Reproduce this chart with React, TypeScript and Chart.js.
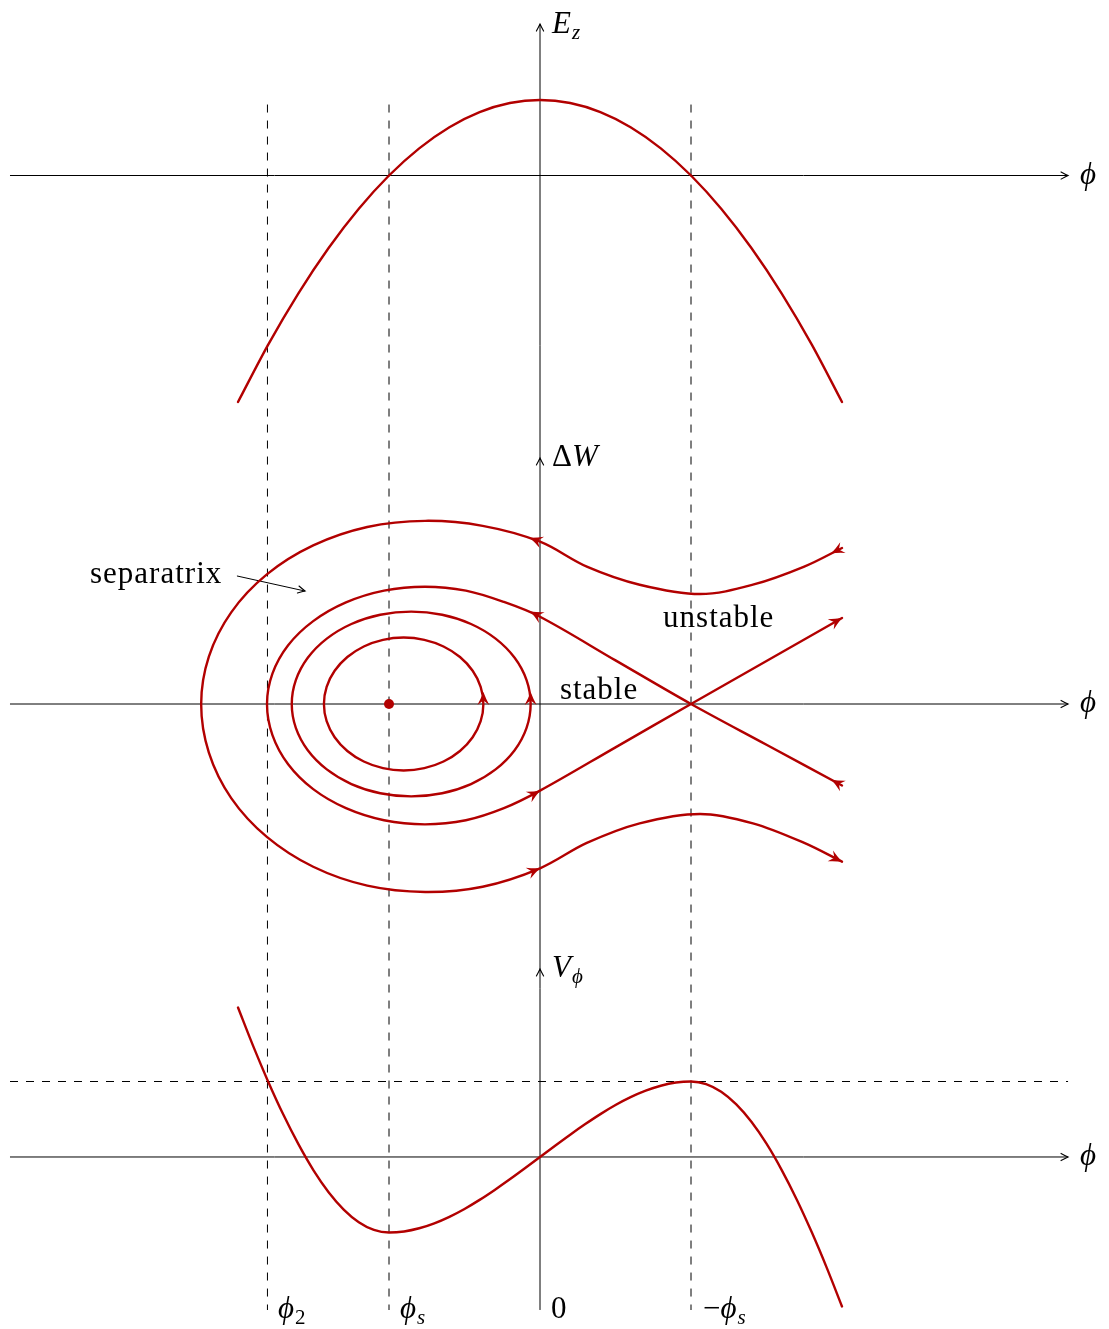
import React, { useEffect, useRef } from 'react';
import { Chart, registerables } from 'chart.js';

Chart.register(...registerables);

const CANVAS_W = 1109;
const CANVAS_H = 1329;
const X_MIN = -3.5762;
const X_MAX = 3.7682;
const Y_MIN = -4.1391;
const Y_MAX = 4.6623;

const RED = '#b20000';
const FONT = '"Liberation Serif", "DejaVu Serif", serif';

// vertical positions of the three sub-plots' horizontal axes
const EZ_BASE = 3.5;
const DW_BASE = 0;
const V_BASE = -3;

// ---- top panel: E_z(phi)
const ezPhi = [-2, -1.8, -1.6, -1.4, -1.2, -1, -0.8, -0.6, -0.4, -0.2, 0, 0.2, 0.4, 0.6, 0.8, 1, 1.2, 1.4, 1.6, 1.8, 2];
const ezValue = [-1.5, -1.12, -0.78, -0.48, -0.22, 0, 0.18, 0.32, 0.42, 0.48, 0.5, 0.48, 0.42, 0.32, 0.18, 0, -0.22, -0.48, -0.78, -1.12, -1.5];

// ---- bottom panel: V_phi(phi)
const vPhi = [
  -2, -1.9, -1.8, -1.7, -1.6, -1.5, -1.4, -1.3, -1.2, -1.1, -1,
  -0.9, -0.8, -0.7, -0.6, -0.5, -0.4, -0.3, -0.2, -0.1, 0,
  0.1, 0.2, 0.3, 0.4, 0.5, 0.6, 0.7, 0.8, 0.9, 1,
  1.1, 1.2, 1.3, 1.4, 1.5, 1.6, 1.7, 1.8, 1.9, 2,
];
const vValue = [
  0.99, 0.736, 0.499, 0.281, 0.085, -0.088, -0.233, -0.348, -0.432, -0.483, -0.5,
  -0.493, -0.472, -0.439, -0.396, -0.344, -0.284, -0.218, -0.148, -0.075, 0,
  0.075, 0.148, 0.218, 0.284, 0.344, 0.396, 0.439, 0.472, 0.493, 0.5,
  0.483, 0.432, 0.348, 0.233, 0.088, -0.085, -0.281, -0.499, -0.736, -0.99,
];
const vRefLevel = 0.5;

// ---- middle panel: phase-space trajectories (phi, ΔW)
// closed orbits: one extra point before and two after so the loop closes smoothly
const orbit1Phi = [-0.393, -0.375, -0.393, -0.446, -0.53, -0.639, -0.766, -0.903, -1.04, -1.167, -1.276, -1.36, -1.413, -1.431, -1.413, -1.36, -1.276, -1.167, -1.04, -0.903, -0.766, -0.639, -0.53, -0.446, -0.393, -0.375, -0.393];
const orbit1DW = [-0.114, 0, 0.114, 0.22, 0.311, 0.381, 0.425, 0.44, 0.425, 0.381, 0.311, 0.22, 0.114, 0, -0.114, -0.22, -0.311, -0.381, -0.425, -0.44, -0.425, -0.381, -0.311, -0.22, -0.114, 0, 0.114];

const orbit2Phi = [-0.089, -0.062, -0.089, -0.168, -0.294, -0.457, -0.648, -0.853, -1.058, -1.249, -1.412, -1.538, -1.617, -1.644, -1.617, -1.538, -1.412, -1.249, -1.058, -0.853, -0.648, -0.457, -0.294, -0.168, -0.089, -0.062, -0.089];
const orbit2DW = [-0.158, 0, 0.158, 0.306, 0.433, 0.53, 0.591, 0.612, 0.591, 0.53, 0.433, 0.306, 0.158, 0, -0.158, -0.306, -0.433, -0.53, -0.591, -0.612, -0.591, -0.53, -0.433, -0.306, -0.158, 0, 0.158];

const sepPhi = [2.0, 1.5, 1, 0.5, 0, -0.239, -0.491, -0.762, -1.033, -1.285, -1.502, -1.668, -1.772, -1.808, -1.772, -1.668, -1.502, -1.285, -1.033, -0.762, -0.491, -0.239, 0, 0.5, 1, 1.5, 2.0];
const sepDW = [-0.54, -0.27, 0, 0.289, 0.578, 0.676, 0.751, 0.777, 0.751, 0.673, 0.549, 0.389, 0.201, 0, -0.206, -0.399, -0.564, -0.69, -0.77, -0.797, -0.77, -0.69, -0.574, -0.287, 0, 0.285, 0.57];

const outerPhi = [2.0, 1.75, 1.41, 1.06, 0.66, 0.31, 0, -0.38, -0.76, -1.144, -1.502, -1.809, -2.045, -2.193, -2.244, -2.193, -2.045, -1.809, -1.502, -1.144, -0.76, -0.38, 0, 0.31, 0.66, 1.06, 1.41, 1.75, 2.0];
const outerDW = [1.033, 0.91, 0.79, 0.728, 0.79, 0.91, 1.075, 1.18, 1.213, 1.172, 1.05, 0.858, 0.607, 0.314, 0, -0.322, -0.623, -0.88, -1.078, -1.203, -1.245, -1.21, -1.088, -0.92, -0.79, -0.728, -0.79, -0.92, -1.044];

const stablePoint = { phi: -1, dw: 0 };

// arrow marks on trajectories: series, point index, shift of tip along travel direction (px)
const flowArrows = [
  { series: 'orbit1', index: 1, shift: 12 },
  { series: 'orbit2', index: 1, shift: 12 },
  { series: 'separatrix', index: 0, shift: 12 },
  { series: 'separatrix', index: 4, shift: 11 },
  { series: 'separatrix', index: 22, shift: 0 },
  { series: 'separatrix', index: 26, shift: 0 },
  { series: 'outer', index: 0, shift: 12 },
  { series: 'outer', index: 6, shift: 11 },
  { series: 'outer', index: 22, shift: 0 },
  { series: 'outer', index: 28, shift: 0 },
];

// guide lines
const guidePhi = [-1.805, -1, 1];
const guideTop = 3.97;
const guideBottom = -4.013;
const axisLeft = -3.51;
const axisRight = 3.497;
const vertAxisBottom = -4.013;
const vertAxisArrowTips = [4.503, 1.629, -1.755];

// pointer for "separatrix"
const pointerFrom = { phi: -2.007, dw: 0.848 };
const pointerTo = { phi: -1.556, dw: 0.748 };

type Part = { t: string; i?: boolean; sub?: boolean };
const mathLabels: { x: number; y: number; parts: Part[] }[] = [
  { x: 0.0795, y: 4.444, parts: [{ t: 'E', i: true }, { t: 'z', i: true, sub: true }] },
  { x: 0.0795, y: 1.576, parts: [{ t: 'Δ' }, { t: 'W', i: true }] },
  { x: 0.0795, y: -1.808, parts: [{ t: 'V', i: true }, { t: 'ϕ', i: true, sub: true }] },
  { x: 3.576, y: EZ_BASE - 0.056, parts: [{ t: 'ϕ', i: true }] },
  { x: 3.576, y: DW_BASE - 0.056, parts: [{ t: 'ϕ', i: true }] },
  { x: 3.576, y: V_BASE - 0.056, parts: [{ t: 'ϕ', i: true }] },
  { x: -1.735, y: -4.066, parts: [{ t: 'ϕ', i: true }, { t: '2', sub: true }] },
  { x: -0.927, y: -4.066, parts: [{ t: 'ϕ', i: true }, { t: 's', i: true, sub: true }] },
  { x: 0.073, y: -4.066, parts: [{ t: '0' }] },
  { x: 1.079, y: -4.066, parts: [{ t: '−' }, { t: 'ϕ', i: true }, { t: 's', i: true, sub: true }] },
];
const wordLabels = [
  { x: -2.98, y: 0.801, text: 'separatrix' },
  { x: 0.815, y: 0.51, text: 'unstable' },
  { x: 0.132, y: 0.033, text: 'stable' },
];

const xy = (xs: number[], ys: number[], dy = 0) => xs.map((x, i) => ({ x, y: ys[i] + dy }));

function drawRedArrow(ctx: CanvasRenderingContext2D, x: number, y: number, dx: number, dy: number) {
  const L = 13, W = 6, inset = 4.5;
  ctx.save();
  ctx.translate(x, y);
  ctx.rotate(Math.atan2(dy, dx));
  ctx.beginPath();
  ctx.moveTo(0, 0);
  ctx.quadraticCurveTo(-L * 0.5, W * 0.4, -L, W);
  ctx.lineTo(-L + inset, 0);
  ctx.lineTo(-L, -W);
  ctx.quadraticCurveTo(-L * 0.5, -W * 0.4, 0, 0);
  ctx.closePath();
  ctx.fillStyle = RED;
  ctx.fill();
  ctx.restore();
}

function drawBlackArrow(ctx: CanvasRenderingContext2D, x: number, y: number, dx: number, dy: number) {
  ctx.save();
  ctx.translate(x, y);
  ctx.rotate(Math.atan2(dy, dx));
  ctx.beginPath();
  ctx.moveTo(-7, 3.6);
  ctx.quadraticCurveTo(-2.5, 1.1, 0, 0);
  ctx.quadraticCurveTo(-2.5, -1.1, -7, -3.6);
  ctx.strokeStyle = '#000';
  ctx.lineWidth = 1.1;
  ctx.lineCap = 'round';
  ctx.stroke();
  ctx.restore();
}

const decorPlugin = {
  id: 'decor',
  afterDatasetsDraw(chart: any) {
    const ctx: CanvasRenderingContext2D = chart.ctx;
    const sx = chart.scales.x;
    const sy = chart.scales.y;
    const px = (u: number) => sx.getPixelForValue(u);
    const py = (v: number) => sy.getPixelForValue(v);

    for (const spec of flowArrows) {
      const di = chart.data.datasets.findIndex((d: any) => d.label === spec.series);
      const pts = chart.getDatasetMeta(di).data;
      const p = pts[spec.index];
      let dx = 0, dy = 0;
      if (p.cp1x !== undefined && (p.cp2x !== p.cp1x || p.cp2y !== p.cp1y)) {
        dx = p.cp2x - p.cp1x;
        dy = p.cp2y - p.cp1y;
      } else {
        const a = pts[Math.max(0, spec.index - 1)];
        const b = pts[Math.min(pts.length - 1, spec.index + 1)];
        dx = b.x - a.x;
        dy = b.y - a.y;
      }
      const len = Math.hypot(dx, dy) || 1;
      dx /= len; dy /= len;
      drawRedArrow(ctx, p.x + dx * spec.shift, p.y + dy * spec.shift, dx, dy);
    }

    for (const b of [EZ_BASE, DW_BASE, V_BASE]) {
      drawBlackArrow(ctx, px(axisRight), py(b), 1, 0);
    }
    for (const t of vertAxisArrowTips) {
      drawBlackArrow(ctx, px(0), py(t), 0, -1);
    }
    {
      const x1 = px(pointerFrom.phi), y1 = py(pointerFrom.dw);
      const x2 = px(pointerTo.phi), y2 = py(pointerTo.dw);
      drawBlackArrow(ctx, x2, y2, x2 - x1, y2 - y1);
    }

    ctx.save();
    ctx.fillStyle = '#000';
    ctx.textBaseline = 'alphabetic';
    ctx.textAlign = 'left';
    const setLS = (v: string) => { try { (ctx as any).letterSpacing = v; } catch (e) { /* ignore */ } };
    for (const lab of mathLabels) {
      let x = px(lab.x);
      const y = py(lab.y);
      setLS('0px');
      for (const part of lab.parts) {
        const size = part.sub ? 21 : 31;
        ctx.font = `${part.i ? 'italic ' : ''}${size}px ${FONT}`;
        const yy = part.sub ? y + 6 : y;
        ctx.fillText(part.t, x, yy);
        x += ctx.measureText(part.t).width + (part.i && !part.sub ? 1 : 0);
      }
    }
    setLS('1px');
    ctx.font = `31px ${FONT}`;
    for (const w of wordLabels) {
      ctx.fillText(w.text, px(w.x), py(w.y));
    }
    setLS('0px');
    ctx.restore();
  },
};

export default function App() {
  const ref = useRef<HTMLCanvasElement | null>(null);

  useEffect(() => {
    if (!ref.current) return;
    const redLine = (label: string, data: any[], extra: any = {}) => ({
      label,
      data,
      showLine: true,
      borderColor: RED,
      borderWidth: 2.4,
      pointRadius: 0,
      fill: false,
      borderCapStyle: 'round',
      borderJoinStyle: 'round',
      ...extra,
    });
    // hide the first and last helper segments of a closed orbit
    const closedLoop = (n: number) => ({
      tension: 0.34,
      segment: {
        borderColor: (c: any) => (c.p0DataIndex === 0 || c.p1DataIndex === n - 1 ? 'rgba(0,0,0,0)' : undefined),
      },
    });
    const blackLine = (label: string, data: any[], dashed = false) => ({
      label,
      data,
      showLine: true,
      borderColor: '#000',
      borderWidth: 1,
      pointRadius: 0,
      fill: false,
      tension: 0,
      borderDash: dashed ? [8, 8] : [],
    });

    const datasets: any[] = [
      {
        label: 'stable-point',
        data: [{ x: stablePoint.phi, y: stablePoint.dw }],
        showLine: false,
        pointRadius: 5,
        pointBackgroundColor: RED,
        pointBorderWidth: 0,
        pointBorderColor: RED,
      },
      redLine('Ez', xy(ezPhi, ezValue, EZ_BASE), { cubicInterpolationMode: 'monotone' }),
      redLine('Vphi', xy(vPhi, vValue, V_BASE), { cubicInterpolationMode: 'monotone' }),
      redLine('orbit1', xy(orbit1Phi, orbit1DW, DW_BASE), closedLoop(orbit1Phi.length)),
      redLine('orbit2', xy(orbit2Phi, orbit2DW, DW_BASE), closedLoop(orbit2Phi.length)),
      redLine('separatrix', xy(sepPhi, sepDW, DW_BASE), { tension: 0.34 }),
      redLine('outer', xy(outerPhi, outerDW, DW_BASE), { tension: 0.34 }),
      blackLine('pointer', [{ x: pointerFrom.phi, y: pointerFrom.dw }, { x: pointerTo.phi, y: pointerTo.dw }]),
      blackLine('axis-top', [{ x: axisLeft, y: EZ_BASE }, { x: axisRight, y: EZ_BASE }]),
      blackLine('axis-mid', [{ x: axisLeft, y: DW_BASE }, { x: axisRight, y: DW_BASE }]),
      blackLine('axis-bot', [{ x: axisLeft, y: V_BASE }, { x: axisRight, y: V_BASE }]),
      blackLine('axis-vert', [{ x: 0, y: vertAxisBottom }, { x: 0, y: vertAxisArrowTips[0] }]),
      blackLine('v-ref', [{ x: axisLeft, y: V_BASE + vRefLevel }, { x: axisRight, y: V_BASE + vRefLevel }], true),
      ...guidePhi.map((g, i) => blackLine('guide' + i, [{ x: g, y: guideTop }, { x: g, y: guideBottom }], true)),
    ];

    const chart = new Chart(ref.current, {
      type: 'scatter',
      data: { datasets },
      options: {
        responsive: false,
        animation: false,
        devicePixelRatio: 1,
        events: [],
        layout: { padding: 0, autoPadding: false },
        plugins: {
          legend: { display: false },
          tooltip: { enabled: false },
          title: { display: false },
        },
        scales: {
          x: { type: 'linear', min: X_MIN, max: X_MAX, display: false },
          y: { type: 'linear', min: Y_MIN, max: Y_MAX, display: false },
        },
      },
      plugins: [decorPlugin],
    } as any);
    return () => chart.destroy();
  }, []);

  return (
    <div style={{ position: 'absolute', left: 0, top: 0, width: CANVAS_W, height: CANVAS_H, background: '#fff' }}>
      <canvas ref={ref} width={CANVAS_W} height={CANVAS_H} style={{ display: 'block', width: CANVAS_W, height: CANVAS_H }} />
    </div>
  );
}
